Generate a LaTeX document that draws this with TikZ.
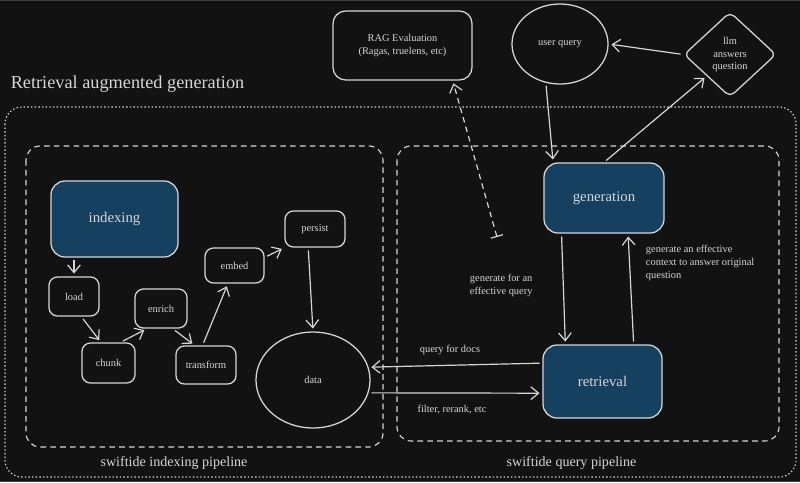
\documentclass[tikz,border=0pt]{standalone}
\usepackage{fontspec}
\setmainfont{Liberation Serif}
\usepackage{tikz}
\usetikzlibrary{shapes.geometric, arrows.meta, positioning}
\definecolor{bgdark}{RGB}{18,18,18}
\definecolor{edgegray}{RGB}{62,62,62}
\definecolor{sketch}{RGB}{214,214,214}
\definecolor{deepblue}{RGB}{21,64,96}

\begin{document}
\begin{tikzpicture}[x=0.025cm, y=-0.025cm, font=\fontsize{7.4}{9.2}\selectfont, text=sketch,
    box/.style={draw=sketch, line width=0.9pt, rounded corners=6pt, align=center, inner sep=2pt},
    stepbox/.style={box},
    bigbox/.style={box, fill=deepblue, rounded corners=10pt, font=\fontsize{10.5}{12}\selectfont},
    roundish/.style={draw=sketch, line width=0.9pt, ellipse, inner sep=1pt},
    arr/.style={draw=sketch, line width=0.85pt, -{Straight Barb[length=5.5pt,width=9pt]},
                shorten >=2pt, shorten <=2pt},
    dotframe/.style={draw=sketch, line width=0.8pt, rounded corners=12pt, dash pattern=on 1pt off 1.6pt},
    dashframe/.style={draw=sketch, line width=0.8pt, rounded corners=10pt, dash pattern=on 4pt off 3pt},
    framelbl/.style={font=\fontsize{10}{12}\selectfont}]

  % canvas, pixel units
  \useasboundingbox (0,0) rectangle (800,482);
  \fill[bgdark] (0,0) rectangle (800,482);
  \fill[edgegray] (0,0) rectangle (800,1.3);
  \fill[edgegray] (0,480.7) rectangle (800,482);

  % frames
  \draw[dotframe] (5,107) rectangle (796,477);
  \draw[dashframe] (26,146) rectangle (383,447);
  \draw[dashframe] (397,146) rectangle (779,441);
  \node[font=\fontsize{13}{15}\selectfont] (title) at (127.5,84) {Retrieval augmented generation};
  \node[framelbl] (idxlbl) at (174,463) {swiftide indexing pipeline};
  \node[framelbl] (qrylbl) at (571.5,463) {swiftide query pipeline};

  % main blocks
  \node[bigbox, minimum width=3.175cm, minimum height=1.9cm] (indexing) at (114.5,219) {indexing};
  \node[bigbox, minimum width=3cm, minimum height=1.75cm] (gen) at (604,198) {generation};
  \node[bigbox, minimum width=2.975cm, minimum height=1.825cm] (ret) at (602.5,381.5) {retrieval};
  \node[box, rounded corners=9pt, minimum width=3.475cm, minimum height=1.725cm] (rag)
    at (402.5,45.5) {RAG Evaluation\\(Ragas, truelens, etc)};
  \node[roundish, minimum width=2.4cm, minimum height=2cm] (uq) at (560,44) {user query};
  \node[draw=sketch, line width=0.9pt, diamond, rounded corners=4pt, align=center, inner sep=0pt,
        minimum width=2.3cm, minimum height=2.125cm] (llm) at (730,54.5) {llm\\answers\\question};
  \node[roundish, minimum width=2.85cm, minimum height=2.4cm] (data) at (313,380) {data};

  % indexing steps
  \foreach \nm/\cx/\cy/\w/\h in {load/74/296.5/1.25/0.975, enrich/161/308.5/1.3/0.975,
      chunk/108.5/363/1.325/1.0, transform/206/365/1.5/0.95,
      embed/234.5/265.5/1.475/0.875, persist/315/229/1.5/0.9}
    \node[stepbox, minimum width=\w cm, minimum height=\h cm] (\nm) at (\cx,\cy) {\nm};

  \draw[arr] (indexing.south -| load.north) -- (load.north);
  \draw[arr] (load.290) -- (chunk.110);
  \draw[arr] (chunk.60) -- (enrich.235);
  \draw[arr] (enrich.300) -- (transform.120);
  \draw[arr] (transform.100) -- (embed.250);
  \draw[arr] (embed.15) -- (persist.south west);
  \draw[arr] (persist.250) -- (data.north);

  % query side
  \draw[arr] (llm.west) -- (uq.east);
  \draw[arr] (uq.250) -- (gen.145);
  \draw[arr] (gen.north) -- (llm.south west);
  \coordinate (evaltail) at (497,237);
  \draw[arr, dash pattern=on 4pt off 3pt, shorten <=0pt,
        {Bar[width=9pt]}-{Straight Barb[length=5.5pt,width=9pt]}]
    (evaltail) -- (rag.-35);
  \draw[arr] (gen.220) -- (ret.135);
  \draw[arr] (ret.50) -- (gen.-56);
  \draw[arr] (ret.163) -- (data.13);
  \draw[arr] (data.-13) -- (ret.191);

  \node[anchor=west, align=left] (genlbl) at (465,285) {generate for an\\effective query};
  \node[anchor=west, align=left] (ctxlbl) at (641,263)
    {generate an effective\\context to answer original\\question};
  \node (docslbl) at (450,350) {query for docs};
  \node (fltlbl) at (452,410) {filter, rerank, etc};
\end{tikzpicture}
\end{document}
